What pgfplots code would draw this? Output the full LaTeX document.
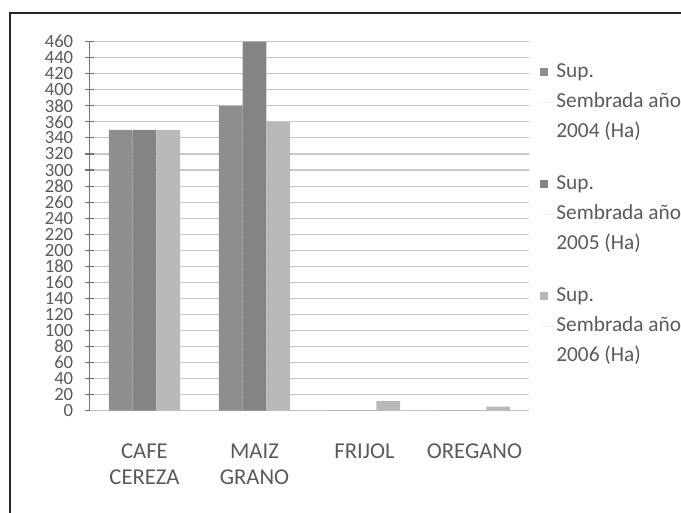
\documentclass[border=0pt]{standalone}
\usepackage{pgfplots}
\pgfplotsset{compat=1.18}
\usepackage{fontspec}
\setmainfont{Carlito}
\definecolor{sA}{HTML}{8E8E8E}
\definecolor{sB}{HTML}{848484}
\definecolor{sC}{HTML}{B9B9B9}
\definecolor{txt}{HTML}{5A5A5A}
\begin{document}
\begin{tikzpicture}
\useasboundingbox (0,0) rectangle (510.75pt,384pt);
\draw[line width=1.6pt, color=black!85] (7.5pt,-5pt) -- (7.5pt,374.25pt) -- (520pt,374.25pt);
\begin{axis}[
  at={(67.1pt,76pt)}, anchor=south west,
  scale only axis, width=330pt, height=276.75pt,
  ybar=0pt, bar width=17.8pt,
  xmin=-0.5, xmax=3.5, ymin=0, ymax=460,
  ytick distance=20,
  xtick={0,1,2,3},
  xticklabels={{\strut CAFE\\\strut CEREZA},{\strut MAIZ\\\strut GRANO},\strut FRIJOL,\strut OREGANO},
  x tick label style={align=center, font=\fontsize{17}{19.5}\selectfont, text=txt, anchor=north, yshift=-15pt},
  y tick label style={font=\fontsize{14}{14}\selectfont, text=txt, inner sep=0.5pt, xshift=-8pt},
  /pgf/number format/assume math mode=true,
  xtick style={draw=none},
  ytick style={draw=black!55, line width=0.8pt},
  tick align=center, major tick length=7pt,
  extra x ticks={-0.5,0.5,1.5,2.5,3.5},
  extra x tick labels={},
  extra x tick style={grid=none, tick align=outside, major tick length=8pt, tick style={draw=black!15, line width=0.8pt}},
  axis x line*=bottom, axis y line*=left,
  x axis line style={draw=black!25, line width=0.8pt, -},
  y axis line style={draw=black!55, line width=0.8pt, -},
  ymajorgrids, grid style={draw=black!22, line width=0.8pt},
  legend style={draw=none, fill=none, at={(1.015,0.951)}, anchor=north west,
    font=\fontsize{16}{22.5}\selectfont, text=txt,
    nodes={align=left, inner sep=1pt}, row sep=25pt},
  legend cell align=left,
  legend image code/.code={\path (0pt,0pt) rectangle (11pt,0pt);\fill[#1] (0pt,19.5pt) rectangle (6pt,25.5pt);},
]
\addplot[fill=sA, draw=none] coordinates {(0,350) (1,380) (2,0) (3,0)};
\addplot[fill=sB, draw=none] coordinates {(0,350) (1,460) (2,0) (3,0)};
\addplot[fill=sC, draw=none] coordinates {(0,350) (1,360) (2,12) (3,5)};
\legend{{Sup.\\Sembrada año\\2004 (Ha)},{Sup.\\Sembrada año\\2005 (Ha)},{Sup.\\Sembrada año\\2006 (Ha)}}
\end{axis}
\end{tikzpicture}
\end{document}
